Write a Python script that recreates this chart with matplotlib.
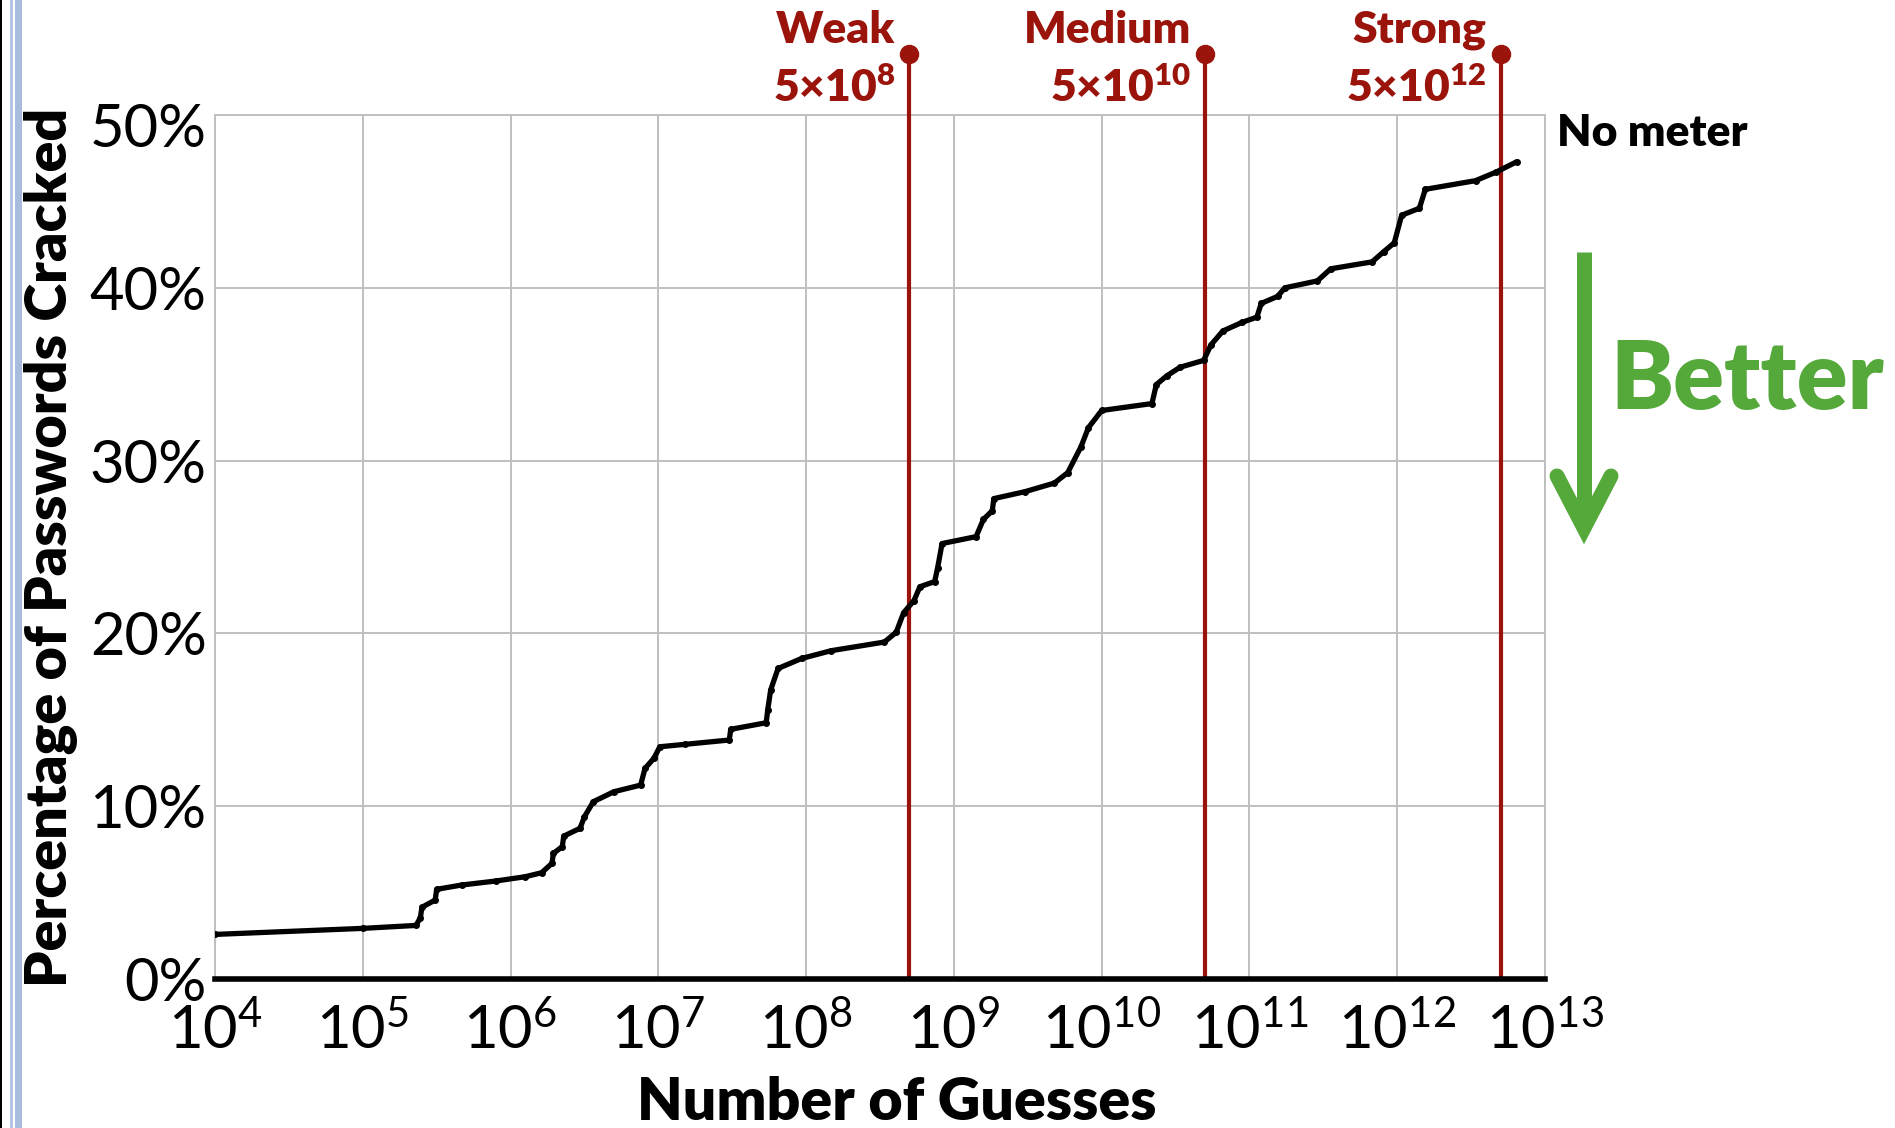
import numpy as np
import matplotlib
matplotlib.use('Agg')
import matplotlib.pyplot as plt
from matplotlib.lines import Line2D
from matplotlib.patches import Rectangle
import matplotlib.transforms as mtransforms
from matplotlib.ticker import FixedLocator, FuncFormatter, NullLocator

plt.rcParams['font.family'] = ['Lato', 'DejaVu Sans']
plt.rcParams['mathtext.fontset'] = 'custom'
plt.rcParams['mathtext.rm'] = 'Lato'
plt.rcParams['mathtext.bf'] = 'Lato:bold'
plt.rcParams['mathtext.default'] = 'regular'

# ---- data ----
log10_guesses = [4.00, 5.00, 5.36, 5.39, 5.40, 5.49, 5.50, 5.67, 5.90, 6.10, 6.21, 6.28,
                 6.29, 6.35, 6.36, 6.47, 6.50, 6.56, 6.70, 6.88, 6.91, 6.97, 7.01, 7.18,
                 7.48, 7.49, 7.73, 7.74, 7.76, 7.81, 7.97, 8.17, 8.53, 8.61, 8.66, 8.73,
                 8.77, 8.87, 8.89, 8.92, 9.15, 9.20, 9.26, 9.27, 9.48, 9.68, 9.77, 9.86,
                 9.91, 10.00, 10.34, 10.37, 10.44, 10.53, 10.69, 10.74, 10.82, 10.95, 11.05,
                 11.08, 11.19, 11.24, 11.46, 11.55, 11.83, 11.91, 11.98, 12.03, 12.15, 12.19,
                 12.53, 12.67, 12.81]
pct_cracked = [2.58, 2.93, 3.10, 3.55, 4.15, 4.57, 5.19, 5.44, 5.67, 5.92, 6.15, 6.69,
               7.27, 7.66, 8.27, 8.72, 9.39, 10.26, 10.84, 11.22, 12.19, 12.77, 13.44, 13.58,
               13.83, 14.45, 14.83, 15.56, 16.72, 17.97, 18.55, 19.0, 19.5, 20.07, 21.2, 21.9,
               22.7, 23.0, 23.8, 25.2, 25.6, 26.6, 27.1, 27.8, 28.2, 28.7, 29.3, 30.8,
               31.9, 32.9, 33.3, 34.4, 34.9, 35.4, 35.8, 36.7, 37.5, 38.0, 38.3,
               39.1, 39.5, 40.0, 40.4, 41.1, 41.5, 42.1, 42.6, 44.2, 44.6, 45.7,
               46.2, 46.7, 47.3]
x_tick_exponents = [4, 5, 6, 7, 8, 9, 10, 11, 12, 13]
y_tick_values = [0, 10, 20, 30, 40, 50]
meter_names = ['Weak', 'Medium', 'Strong']
meter_thresholds = [5e8, 5e10, 5e12]
meter_threshold_labels = ['5×10$^{8}$', '5×10$^{10}$', '5×10$^{12}$']
series_label = 'No meter'

guesses = [10.0 ** e for e in log10_guesses]

W, H = 1895, 1128
fig = plt.figure(figsize=(W / 100, H / 100), dpi=100)
fig.patch.set_facecolor('white')

def fx(px):
    return px / W

def fy(py):
    return 1 - py / H

ax_l, ax_r, ax_t, ax_b = 215, 1545, 115, 979
ax = fig.add_axes([fx(ax_l), fy(ax_b), fx(ax_r - ax_l), (ax_b - ax_t) / H])
ax.set_xscale('log')
ax.set_xlim(1e4, 1e13)
ax.set_ylim(0, 50)

grid_c = '#BFBFBF'
ax.xaxis.set_major_locator(FixedLocator([10.0 ** e for e in x_tick_exponents]))
ax.xaxis.set_minor_locator(NullLocator())
ax.xaxis.set_major_formatter(FuncFormatter(lambda v, p: r'$10^{%d}$' % round(np.log10(v))))
ax.yaxis.set_major_locator(FixedLocator(y_tick_values))
ax.yaxis.set_major_formatter(FuncFormatter(lambda v, p: '%d%%' % v))
ax.grid(True, color=grid_c, lw=1.4)
ax.set_axisbelow(True)
ax.tick_params(axis='both', length=0, labelsize=43)
ax.tick_params(axis='x', pad=16)
ax.tick_params(axis='y', pad=6)
for s in ['left', 'top', 'right']:
    ax.spines[s].set_color(grid_c)
    ax.spines[s].set_linewidth(1.4)
ax.spines['bottom'].set_color('black')
ax.spines['bottom'].set_linewidth(4)
ax.spines['bottom'].set_zorder(5)

# nudge the top y tick label down as in the reference
fig.canvas.draw()
for lbl in ax.get_yticklabels():
    if lbl.get_text() == '50%':
        lbl.set_transform(lbl.get_transform() +
                          mtransforms.ScaledTranslation(0, -10 / 100, fig.dpi_scale_trans))

# curve
ax.plot(guesses, pct_cracked, color='black', lw=3.8, solid_capstyle='round',
        solid_joinstyle='round', zorder=4)
ax.plot(guesses, pct_cracked, 'o', color='black', ms=4, zorder=4)

# meter threshold lines
red = '#9B140C'
blend = mtransforms.blended_transform_factory(ax.transData, ax.transAxes)
top_axes = (ax_b - 54) / (ax_b - ax_t)
for name, thr, lab in zip(meter_names, meter_thresholds, meter_threshold_labels):
    ax.plot([thr, thr], [0, top_axes], color=red, lw=3, transform=blend,
            clip_on=False, zorder=3)
    ax.plot([thr], [top_axes], 'o', color=red, ms=13, transform=blend,
            clip_on=False, zorder=6)
    ax.annotate(name, xy=(thr, top_axes), xycoords=blend, xytext=(-14, 24),
                textcoords='offset pixels', ha='right', va='center',
                fontsize=32, fontweight='heavy', color=red, annotation_clip=False)
    ax.annotate(lab, xy=(thr, top_axes), xycoords=blend, xytext=(-14, -34),
                textcoords='offset pixels', ha='right', va='center',
                fontsize=32, fontweight='heavy', color=red, annotation_clip=False)

# series label
fig.text(fx(1557), fy(133), series_label, fontsize=32, fontweight='heavy',
         color='black', ha='left', va='center')

# Better arrow
green = '#55A93B'
lw_arrow = 15 * 0.72
fig.add_artist(Line2D([fx(1584), fx(1584)], [fy(252), fy(525)], color=green,
                      lw=lw_arrow, solid_capstyle='butt'))
fig.add_artist(Line2D([fx(1557), fx(1584), fx(1611)], [fy(476), fy(528), fy(476)],
                      color=green, lw=lw_arrow, solid_capstyle='round',
                      solid_joinstyle='miter'))
fig.text(fx(1610), fy(381), 'Better', fontsize=68, fontweight='heavy', color=green,
         ha='left', va='center')

# axis labels
fig.text(fx(51), fy(547), 'Percentage of Passwords Cracked', rotation=90,
         fontsize=41.3, fontweight='heavy', ha='center', va='center')
fig.text(fx(897), fy(1102), 'Number of Guesses', fontsize=42.5, fontweight='heavy',
         ha='center', va='center')

# left border decoration
fig.add_artist(Rectangle((0, 0), fx(2), 1, transform=fig.transFigure,
                         color='black', lw=0))
fig.add_artist(Rectangle((fx(10), 0), fx(3), 1, transform=fig.transFigure,
                         color='#B4C4E4', lw=0))
fig.add_artist(Rectangle((fx(15), 0), fx(7), 1, transform=fig.transFigure,
                         color='#A9BCE0', lw=0))

fig.savefig('out.png', dpi=100)
